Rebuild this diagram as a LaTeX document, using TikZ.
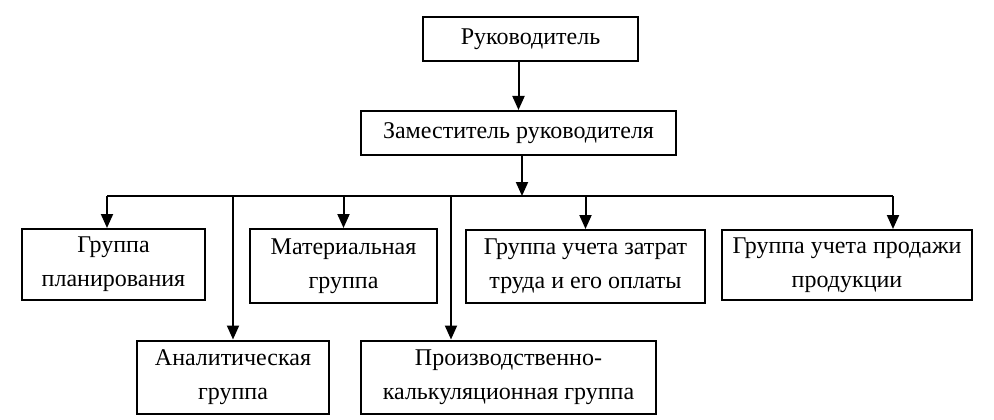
\documentclass[tikz,border=0pt]{standalone}
\usepackage{fontspec}
\setmainfont{Liberation Serif}
\usetikzlibrary{arrows.meta}
\begin{document}
\begin{tikzpicture}[x=1pt,y=-1pt,
  box/.style={draw, line width=2pt, inner sep=0pt, align=center,
    font=\fontsize{24}{34}\selectfont},
  arr/.style={line width=2pt, -{Triangle[length=14pt,width=12pt]}},
  ln/.style={line width=2pt}]
\useasboundingbox (0,0) rectangle (994,420);
\fill[white] (0,0) rectangle (994,420);
\node[box, minimum width=215pt, minimum height=44pt] (r) at (530.5,39) {Руководитель};
\node[box, minimum width=315pt, minimum height=44pt] (z) at (518.5,133) {Заместитель руководителя};
\node[box, minimum width=183pt, minimum height=71pt] (p) at (113.5,264.5) {Группа\\планирования};
\node[box, minimum width=187pt, minimum height=74pt] (m) at (343.5,266) {Материальная\\группа};
\node[box, minimum width=239pt, minimum height=73pt] (t) at (585.5,266.5) {Группа учета затрат\\труда и его оплаты};
\node[box, minimum width=250pt, minimum height=70pt] (s) at (847,265) {Группа учета продажи\\продукции};
\node[box, minimum width=192pt, minimum height=73pt] (a) at (233,377) {Аналитическая\\группа};
\node[box, minimum width=295pt, minimum height=73pt] (k) at (508.5,377) {Производственно-\\калькуляционная группа};
\coordinate (bl) at (107,196);
\coordinate (br) at (893,196);
\coordinate (bk) at (451,196);
\draw[arr] (z.north |- r.south) -- (z.north);
\draw[arr] ([xshift=3.5pt]z.south) -- ([xshift=3.5pt]z.south |- bl);
\draw[ln] (bl) -- (br);
\draw[arr] (bl) -- (bl |- p.north);
\draw[arr] (m.north |- bl) -- (m.north);
\draw[arr] (t.north |- bl) -- (t.north);
\draw[arr] (br) -- (br |- s.north);
\draw[arr] (a.north |- bl) -- (a.north);
\draw[arr] (bk) -- (bk |- k.north);
\end{tikzpicture}
\end{document}
